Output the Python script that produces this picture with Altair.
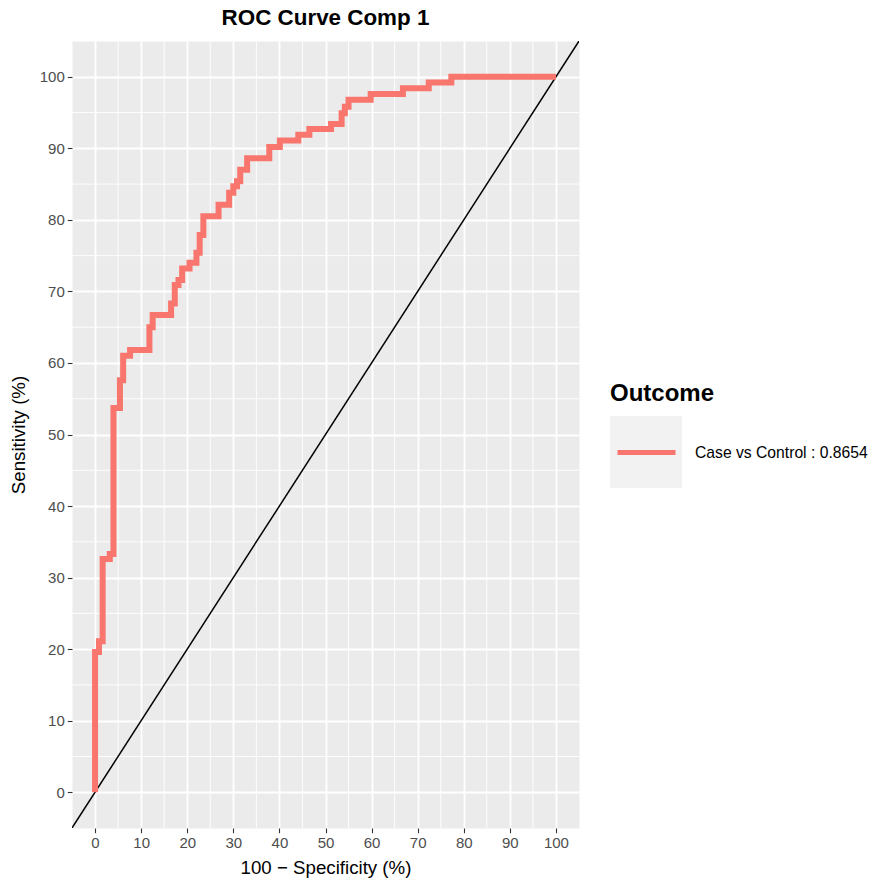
import altair as alt
import pandas as pd

# ROC curve corner points (100 - specificity, sensitivity)
fpr = [0, 0, 0.85, 1.65, 3.2, 4.0, 5.4, 6.1, 7.6, 11.8, 12.5, 16.5, 17.3, 18.1, 18.9,
       20.5, 22.0, 22.7, 23.5, 26.8, 29.1, 30.0, 30.8, 31.5, 33.0, 37.8, 40.1, 44.1,
       46.5, 51.2, 53.5, 54.2, 55.0, 59.8, 66.8, 72.4, 77.3, 100]
tpr = [0, 19.6, 21.1, 32.6, 33.3, 53.7, 57.6, 61.0, 61.8, 65.0, 66.7, 68.3, 70.9, 71.6, 73.2,
       74.0, 75.4, 77.9, 80.5, 82.1, 83.8, 84.7, 85.4, 87.0, 88.6, 90.2, 91.1, 91.9,
       92.7, 93.4, 94.9, 95.8, 96.8, 97.6, 98.4, 99.2, 100, 100]
major_breaks = list(range(0, 101, 10))
minor_breaks = list(range(5, 100, 10))
diag = [-5, 105]
legend_label = "Case vs Control : 0.8654"

roc_df = pd.DataFrame({"fpr": fpr, "tpr": tpr, "i": list(range(len(fpr))),
                       "Outcome": [legend_label] * len(fpr)})
diag_df = pd.DataFrame({"v": diag})
minor_df = pd.DataFrame({"m": minor_breaks})

FONT = "Liberation Sans"
xs = alt.Scale(domain=[-5, 105], nice=False, zero=False)
ys = alt.Scale(domain=[-5, 105], nice=False, zero=False)
x_axis = alt.Axis(values=major_breaks, title="100 − Specificity (%)")
y_axis = alt.Axis(values=major_breaks, title="Sensitivity (%)")

vminor = alt.Chart(minor_df).mark_rule(color="white", strokeWidth=0.9).encode(
    x=alt.X("m:Q", scale=xs, axis=x_axis))
hminor = alt.Chart(minor_df).mark_rule(color="white", strokeWidth=0.9).encode(
    y=alt.Y("m:Q", scale=ys, axis=y_axis))

diag_line = alt.Chart(diag_df).mark_line(color="black", strokeWidth=1.5, clip=True).encode(
    x=alt.X("v:Q", scale=xs, axis=x_axis),
    y=alt.Y("v:Q", scale=ys, axis=y_axis))

LX, LY = 538, 375

box = alt.Chart(roc_df).mark_square(opacity=0).encode(
    x=alt.X("fpr:Q", scale=xs, axis=x_axis),
    y=alt.Y("tpr:Q", scale=ys, axis=y_axis),
    color=alt.Color("Outcome:N", scale=alt.Scale(range=["#F2F2F2"]),
                    legend=alt.Legend(title=None, orient="none", legendX=LX, legendY=LY,
                                      padding=0, symbolType="square", symbolSize=5184,
                                      symbolStrokeWidth=0, symbolOpacity=1,
                                      labelExpr="''", zindex=0)))

roc = alt.Chart(roc_df).mark_line(strokeWidth=6, interpolate="step-after").encode(
    x=alt.X("fpr:Q", scale=xs, axis=x_axis),
    y=alt.Y("tpr:Q", scale=ys, axis=y_axis),
    order=alt.Order("i:Q"),
    stroke=alt.Stroke("Outcome:N", scale=alt.Scale(range=["#F8766D"]),
                      legend=alt.Legend(title="Outcome", orient="none", legendX=LX, legendY=LY - 34,
                                        padding=0, symbolType="stroke", symbolSize=3364,
                                        symbolStrokeWidth=5, symbolOffset=5, labelOffset=17,
                                        titleFontSize=24, titleFont=FONT, titleFontWeight="bold",
                                        titleColor="black", titlePadding=15, labelLimit=400,
                                        labelFontSize=15.7, labelFont=FONT, labelColor="black",
                                        zindex=1)))

chart = alt.layer(vminor, hminor, diag_line, box, roc).properties(
    width=507, height=787,
    title=alt.TitleParams("ROC Curve Comp 1", anchor="middle", fontSize=22.4, font=FONT,
                          fontWeight="bold", color="black", offset=11),
    autosize=alt.AutoSizeParams(type="none"),
    padding={"left": 72, "top": 41, "right": 295, "bottom": 55},
    background="white",
).configure_view(
    fill="#EBEBEB", stroke="transparent"
).configure_axis(
    domain=False, grid=True, gridColor="white", gridWidth=1.8,
    tickColor="#333333", tickSize=4.7, tickWidth=1.1,
    labelFont=FONT, labelFontSize=15, labelColor="#4D4D4D", labelPadding=3,
    titleFont=FONT, titleFontSize=18.7, titleFontWeight="normal", titleColor="black",
).configure_axisX(titlePadding=8).configure_axisY(titlePadding=11)

chart.save("out.html", embed_options={"renderer": "svg", "actions": False})
